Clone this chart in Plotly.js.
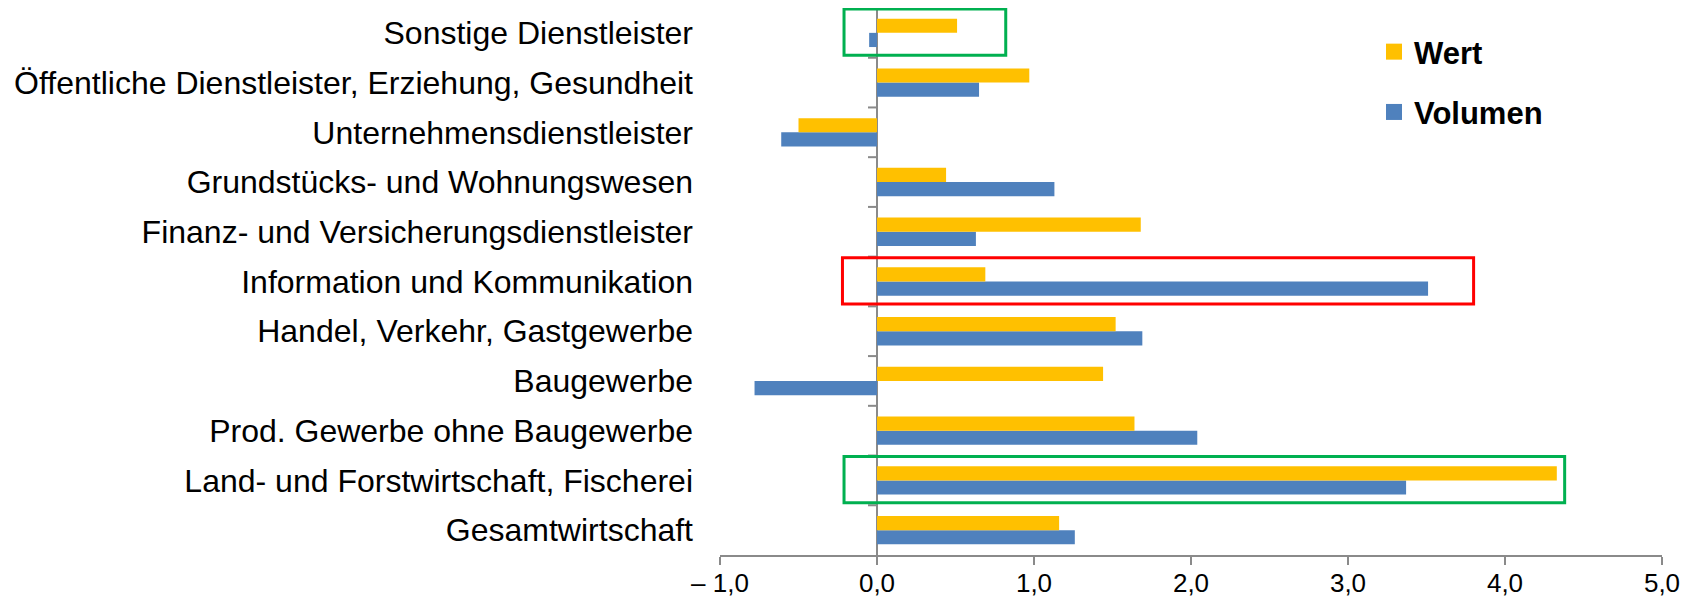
<!DOCTYPE html>
<html>
<head>
<meta charset="utf-8">
<script src="https://cdn.plot.ly/plotly-3.0.1.min.js"></script>
<style>html,body{margin:0;padding:0;background:#fff;}#chart{width:1694px;height:600px;}</style>
</head>
<body>
<div id="chart"></div>
<script>
// Categories, bottom to top
const categories = [
  "Gesamtwirtschaft",
  "Land- und Forstwirtschaft, Fischerei",
  "Prod. Gewerbe ohne Baugewerbe",
  "Baugewerbe",
  "Handel, Verkehr, Gastgewerbe",
  "Information und Kommunikation",
  "Finanz- und Versicherungsdienstleister",
  "Grundstücks- und Wohnungswesen",
  "Unternehmensdienstleister",
  "Öffentliche Dienstleister, Erziehung, Gesundheit",
  "Sonstige Dienstleister"
];
const wert    = [1.16, 4.33, 1.64, 1.44, 1.52, 0.69, 1.68, 0.44, -0.50, 0.97, 0.51];
const volumen = [1.26, 3.37, 2.04, -0.78, 1.69, 3.51, 0.63, 1.13, -0.61, 0.65, -0.05];
const seriesNames = ["Wert", "Volumen"];
const tickValues = [-1, 0, 1, 2, 3, 4, 5];
const tickLabels = ["\u2013 1,0", "0,0", "1,0", "2,0", "3,0", "4,0", "5,0"];

const YELLOW = "#FFC000", BLUE = "#4F81BD", GRAY = "#8A8A8A";
const FONT = "Liberation Sans, Arial, sans-serif";

const traces = [
  {type: "bar", orientation: "h", name: seriesNames[1], y: categories, x: volumen,
   marker: {color: BLUE, line: {width: 0}}, showlegend: false, hoverinfo: "x+y"},
  {type: "bar", orientation: "h", name: seriesNames[0], y: categories, x: wert,
   marker: {color: YELLOW, line: {width: 0}}, showlegend: false, hoverinfo: "x+y"},
  // legend entries
  {type: "scatter", mode: "markers", name: seriesNames[0], x: [null], y: [null],
   marker: {symbol: "square", size: 16, color: YELLOW}, legendgroup: "a"},
  {type: "scatter", mode: "markers", name: seriesNames[1], x: [null], y: [null],
   marker: {symbol: "square", size: 16, color: BLUE}, legendgroup: "b"}
];

// Category boundary ticks on the zero line
const shapes = [];
for (let i = 1; i < categories.length; i++) {
  shapes.push({type: "line", xref: "x", yref: "y", xsizemode: "pixel", xanchor: 0,
    x0: -9, x1: 0, y0: i - 0.5, y1: i - 0.5, line: {color: GRAY, width: 2}});
}
// Highlight boxes
const boxes = [
  {cat: 10, x0: -0.21, x1: 0.82, color: "#00B050"},
  {cat: 5,  x0: -0.22, x1: 3.80, color: "#FF0000"},
  {cat: 1,  x0: -0.21, x1: 4.38, color: "#00B050"}
];
boxes.forEach(b => shapes.push({type: "rect", xref: "x", yref: "y",
  x0: b.x0, x1: b.x1, y0: b.cat - 0.45, y1: b.cat + 0.48,
  line: {color: b.color, width: 3}, fillcolor: "rgba(0,0,0,0)"}));

const layout = {
  width: 1694, height: 600,
  margin: {l: 720, r: 32, t: 8, b: 45, pad: 0},
  paper_bgcolor: "#fff", plot_bgcolor: "#fff",
  barmode: "group", bargap: 0.43, bargroupgap: 0,
  font: {family: FONT, color: "#000"},
  xaxis: {
    range: [-1, 5], tickvals: tickValues, ticktext: tickLabels,
    showgrid: false, zeroline: true, zerolinecolor: GRAY, zerolinewidth: 2,
    showline: true, linecolor: GRAY, linewidth: 2,
    ticks: "outside", ticklen: 8, tickwidth: 2, tickcolor: GRAY,
    ticklabelstandoff: -4,
    tickfont: {family: FONT, size: 26, color: "#000"},
    fixedrange: true
  },
  yaxis: {
    type: "category", categoryorder: "array", categoryarray: categories,
    range: [-0.5, categories.length - 0.5],
    showgrid: false, zeroline: false, showline: false, ticks: "",
    ticklabelstandoff: 26,
    tickfont: {family: FONT, size: 32, color: "#000"},
    fixedrange: true
  },
  showlegend: true,
  legend: {
    x: (1374 - 720) / 942, y: 1 - 17 / 547, xanchor: "left", yanchor: "top",
    font: {family: FONT, size: 31, color: "#000", weight: "bold"},
    traceorder: "grouped", tracegroupgap: 17, bgcolor: "rgba(0,0,0,0)"
  },
  shapes: shapes
};

Plotly.newPlot("chart", traces, layout, {displayModeBar: false, staticPlot: true});
</script>
</body>
</html>
